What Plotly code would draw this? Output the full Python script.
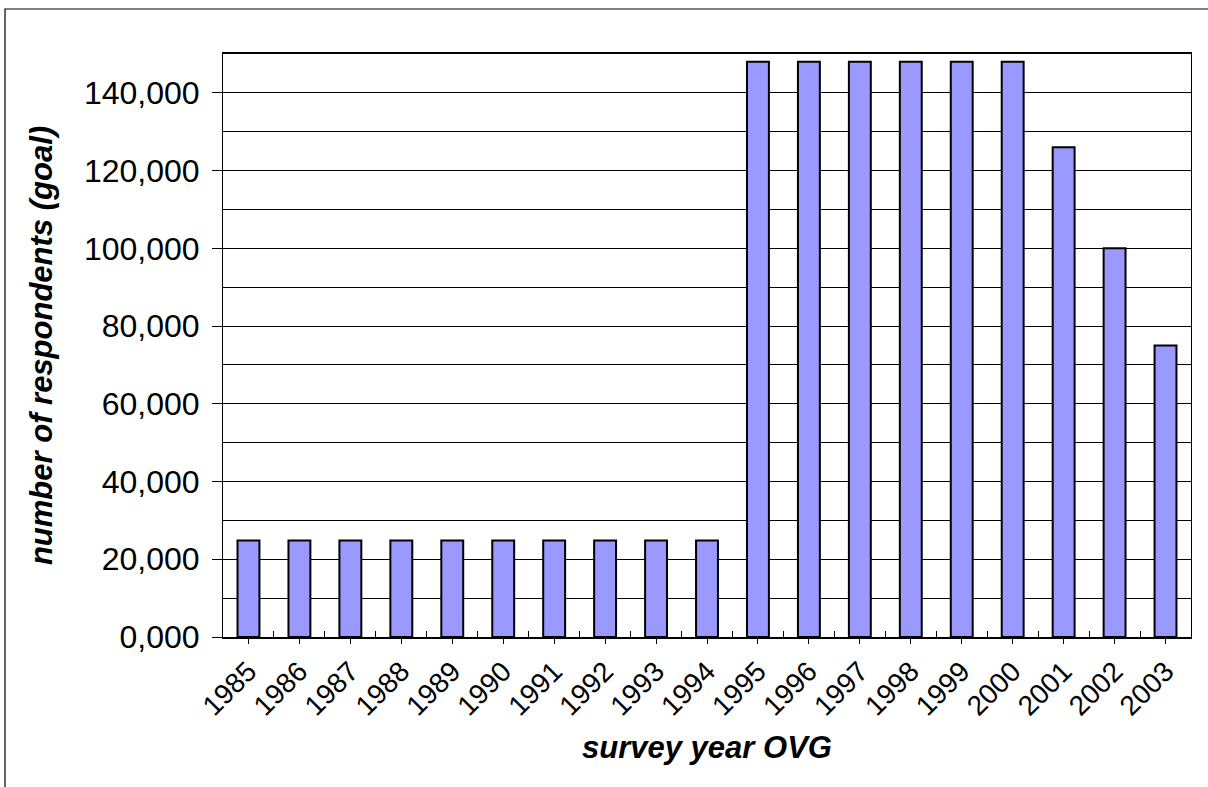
import plotly.graph_objects as go

# Survey years and target respondent counts
years = [str(y) for y in range(1985, 2004)]
respondents = [24800] * 10 + [148000] * 6 + [126000, 100000, 75000]

y_tickvals = [0, 20000, 40000, 60000, 80000, 100000, 120000, 140000]
y_ticktext = ["0,000", "20,000", "40,000", "60,000", "80,000", "100,000", "120,000", "140,000"]

FONT = "Liberation Sans, Arial, sans-serif"

fig = go.Figure()
fig.add_trace(go.Bar(
    x=years,
    y=respondents,
    marker=dict(color="#9999FF", line=dict(color="black", width=2)),
    width=0.43,
    xaxis="x",
    yaxis="y",
))

# an invisible trace so the overlay axis renders its ticks
fig.add_trace(go.Bar(x=years, y=respondents, xaxis="x2", yaxis="y",
                     marker=dict(color="rgba(0,0,0,0)", line=dict(width=0)),
                     width=0.43, hoverinfo="skip", showlegend=False))

fig.update_layout(
    template="none",
    width=1208,
    height=787,
    margin=dict(l=223, r=17, t=54, b=150, autoexpand=False),
    paper_bgcolor="white",
    plot_bgcolor="white",
    showlegend=False,
    font=dict(family=FONT, color="black"),
    xaxis=dict(
        type="category",
        showline=True, linecolor="black", linewidth=1.5, mirror=True,
        ticks="inside", tickson="boundaries", ticklen=6, tickcolor="black",
        tickangle=-45,
        tickfont=dict(size=28, family=FONT),
        ticklabelstandoff=5,
        showgrid=False,
        automargin=False,
        title=dict(text="<b><i>survey year OVG</i></b>", font=dict(size=31, family=FONT), standoff=16),
    ),
    # secondary overlay axis that only carries the small ticks under each category
    xaxis2=dict(
        type="category",
        overlaying="x", matches="x", side="bottom",
        showline=False, showgrid=False,
        ticks="outside", ticklen=6, tickcolor="black",
        showticklabels=False,
        automargin=False,
    ),
    yaxis=dict(
        range=[0, 150000],
        showline=True, linecolor="black", linewidth=1, mirror=True,
        tickvals=y_tickvals, ticktext=y_ticktext,
        ticks="outside", ticklen=10, tickcolor="black",
        tickfont=dict(size=32, family=FONT),
        ticklabelstandoff=6,
        showgrid=True, gridcolor="black", gridwidth=1,
        minor=dict(dtick=10000, tick0=0, showgrid=True, gridcolor="black", gridwidth=1, ticks=""),
        zeroline=False,
        automargin=False,
        title=dict(text="<b><i>number of respondents (goal)</i></b>", font=dict(size=31, family=FONT), standoff=22),
    ),
)

# outer chart frame
fig.add_shape(type="rect", xref="paper", yref="paper",
              x0=-0.2252, x1=1.2, y0=-0.5, y1=1.0772,
              line=dict(color="black", width=1.2), layer="below")

fig.write_html("out.html")
